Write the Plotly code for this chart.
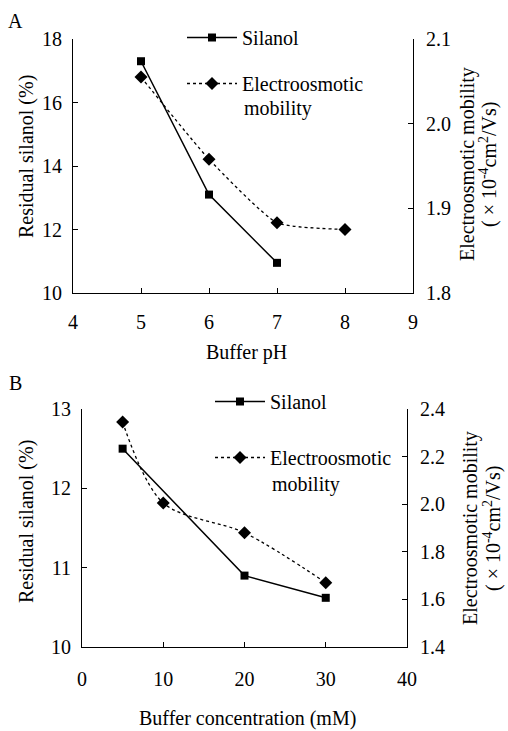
import plotly.graph_objects as go

# Panel A data
ph = [5, 6, 7]
silanol_a = [17.3, 13.1, 10.95]
ph_eof = [5, 6, 7, 8]
eof_a = [2.055, 1.958, 1.883, 1.875]

# Panel B data
conc = [5, 20, 30]
silanol_b = [12.5, 10.9, 10.62]
conc_eof = [5, 10, 20, 30]
eof_b = [2.345, 2.005, 1.88, 1.67]

FONT = "Liberation Serif"
FS = 20
W, H = 508, 731


def px(x):
    return x / W


def py(y):
    return 1 - y / H


fig = go.Figure()

sil_style = dict(mode="lines+markers", line=dict(color="black", width=1.5),
                 marker=dict(symbol="square", size=8, color="black"))
eof_marker = dict(symbol="diamond", size=10, color="black")

fig.add_trace(go.Scatter(x=ph, y=silanol_a, name="Silanol", xaxis="x", yaxis="y",
                         legend="legend", legendgroup="a1", **sil_style))
fig.add_trace(go.Scatter(x=ph_eof, y=eof_a, name="Electroosmotic", xaxis="x", yaxis="y2",
                         legend="legend", legendgroup="a2", mode="lines+markers", marker=eof_marker,
                         line=dict(color="black", width=1.3, dash="3px,3px", shape="spline", smoothing=0.5)))
fig.add_trace(go.Scatter(x=conc, y=silanol_b, name="Silanol", xaxis="x2", yaxis="y3",
                         legend="legend2", legendgroup="b1", **sil_style))
fig.add_trace(go.Scatter(x=conc_eof, y=eof_b, name="Electroosmotic", xaxis="x2", yaxis="y4",
                         legend="legend2", legendgroup="b2", mode="lines+markers", marker=eof_marker,
                         line=dict(color="black", width=1.3, dash="3px,3px", shape="spline", smoothing=0.9)))

axis_common = dict(showline=True, linecolor="black", linewidth=1, ticks="inside", ticklen=5,
                   tickcolor="black", showgrid=False, zeroline=False, automargin=False,
                   tickfont=dict(family=FONT, size=FS, color="black"))

top_dom = [py(293), py(39)]
bot_dom = [py(647), py(409)]

fig.update_layout(
    template="none",
    width=W, height=H, margin=dict(l=0, r=0, t=0, b=0, pad=0, autoexpand=False),
    paper_bgcolor="white", plot_bgcolor="white",
    font=dict(family=FONT, size=FS, color="black"),
    xaxis=dict(domain=[px(73), px(413)], range=[4, 9], dtick=1, anchor="y",
               ticklabelstandoff=11, **axis_common),
    yaxis=dict(domain=top_dom, range=[10, 18], dtick=2, anchor="x",
               ticklabelstandoff=6, **axis_common),
    yaxis2=dict(domain=top_dom, range=[1.8, 2.1], dtick=0.1, tickformat=".1f", anchor="x",
                overlaying="y", side="right", ticklabelstandoff=8, **axis_common),
    xaxis2=dict(domain=[px(82), px(407)], range=[0, 40], dtick=10, anchor="y3",
                ticklabelstandoff=14, **axis_common),
    yaxis3=dict(domain=bot_dom, range=[10, 13], dtick=1, anchor="x2",
                ticklabelstandoff=6, **axis_common),
    yaxis4=dict(domain=bot_dom, range=[1.4, 2.4], dtick=0.2, tickformat=".1f", anchor="x2",
                overlaying="y3", side="right", ticklabelstandoff=8, **axis_common),
    legend=dict(x=px(182), y=py(18), xanchor="left", yanchor="top", bgcolor="rgba(0,0,0,0)",
                font=dict(family=FONT, size=FS), tracegroupgap=17, valign="middle",
                traceorder="grouped", itemwidth=50),
    legend2=dict(x=px(210), y=py(382), xanchor="left", yanchor="top", bgcolor="rgba(0,0,0,0)",
                 font=dict(family=FONT, size=FS), tracegroupgap=27, valign="middle",
                 traceorder="grouped", itemwidth=50),
    showlegend=True,
)

title_font = dict(family=FONT, size=FS, color="black")
ann = [
    dict(text="A", x=px(15), y=py(21)),
    dict(text="B", x=px(15), y=py(383)),
    dict(text="mobility", x=px(242), y=py(109), xanchor="left"),
    dict(text="mobility", x=px(270), y=py(484), xanchor="left"),
    dict(text="Buffer pH", x=px(246), y=py(352)),
    dict(text="Buffer concentration (mM)", x=px(247), y=py(718)),
    dict(text="Residual silanol (%)", x=px(26), y=py(157), textangle=-90),
    dict(text="Residual silanol (%)", x=px(26), y=py(522), textangle=-90),
    dict(text="Electroosmotic mobility", x=px(468), y=py(164), textangle=-90),
    dict(text="( × 10<sup>-4</sup>cm<sup>2</sup>/Vs)", x=px(489), y=py(164), textangle=-90),
    dict(text="Electroosmotic mobility", x=px(470), y=py(528), textangle=-90),
    dict(text="( × 10<sup>-4</sup>cm<sup>2</sup>/Vs)", x=px(492), y=py(528), textangle=-90),
]
for a in ann:
    a.setdefault("xanchor", "center")
    fig.add_annotation(xref="paper", yref="paper", showarrow=False, font=title_font,
                       yanchor="middle", **a)

fig.write_html("out.html")
